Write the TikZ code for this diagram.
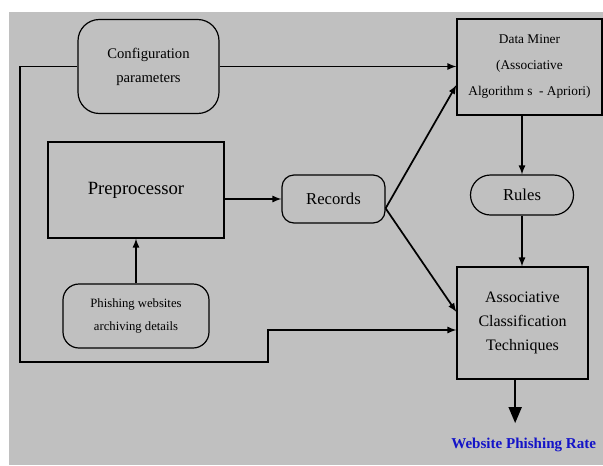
\documentclass[tikz,border=0pt]{standalone}
\usepackage{fontspec}
\setmainfont{Liberation Serif}
\usetikzlibrary{arrows}

\definecolor{panel}{RGB}{192,192,192}
\definecolor{rateblue}{RGB}{20,20,200}

\begin{document}
\begin{tikzpicture}[x=0.75pt,y=-0.75pt,>=latex,
	block/.style={draw,line width=0.9pt,align=center,inner sep=1pt},
	rblock/.style={block,rounded corners=#1},
	rblock/.default=12pt,
	link/.style={->,line width=1.3pt}]

	% background
	\useasboundingbox (0,0) rectangle (603,465);
	\fill[white] (0,0) rectangle (603,465);
	\fill[panel] (9,12) rectangle (603,465);

	% Our blocks
	\node[rblock=16pt,minimum width=105.75pt,minimum height=70.5pt,font=\fontsize{11}{18}\selectfont] (config) at (148.5,66.5) {Configuration\\parameters};
	\node[block,minimum width=108.75pt,minimum height=72pt,font=\fontsize{10}{19.5}\selectfont] (miner) at (529.5,67) {Data Miner\\(Associative\\Algorithm s \ - Apriori)};
	\node[block,minimum width=132pt,minimum height=72pt,font=\fontsize{14}{16}\selectfont] (prep) at (136,190) {Preprocessor};
	\node[rblock=12pt,minimum width=109.5pt,minimum height=48pt,font=\fontsize{9.5}{17}\selectfont] (phish) at (136,316) {Phishing websites\\archiving details};
	\node[rblock=9pt,minimum width=77.25pt,minimum height=36pt,font=\fontsize{12.5}{15}\selectfont] (records) at (333.5,199) {Records};
	\node[rblock=15pt,minimum width=77.25pt,minimum height=30pt,font=\fontsize{12.5}{15}\selectfont] (rules) at (522,195) {Rules};
	\node[block,minimum width=98.25pt,minimum height=84pt,font=\fontsize{12}{18}\selectfont] (assoc) at (522.5,323) {Associative\\Classification\\Techniques};
	\node[anchor=west,inner sep=0pt,text=rateblue,font=\fontsize{11.3}{14}\selectfont\bfseries] (rate) at (451,445) {Website Phishing Rate};

	% feedback loop
	\coordinate (corner) at (20,362);
	\coordinate (step) at (268,330);
	\draw[link] (config.west) -| (corner) -| (step) -- (step -| assoc.west);

	% flow
	\draw[link] (config.east) -- (config.east -| miner.west);
	\draw[link] (prep.east |- records) -- (records.west);
	\draw[link] (phish.north) -- (prep.south);
	\draw[link] ([yshift=-7pt]records.east) -- ([yshift=-13.5pt]miner.west);
	\draw[link] ([yshift=-7pt]records.east) -- ([yshift=8.25pt]assoc.west);
	\draw[link] (rules.north |- miner.south) -- (rules.north);
	\draw[link] (rules.south) -- (rules.south |- assoc.north);
	\draw[->,line width=1.8pt,>=triangle 45] ([xshift=-5.5pt]assoc.south) -- ([xshift=-5.5pt]assoc.south |- 0,423);

\end{tikzpicture}
\end{document}
